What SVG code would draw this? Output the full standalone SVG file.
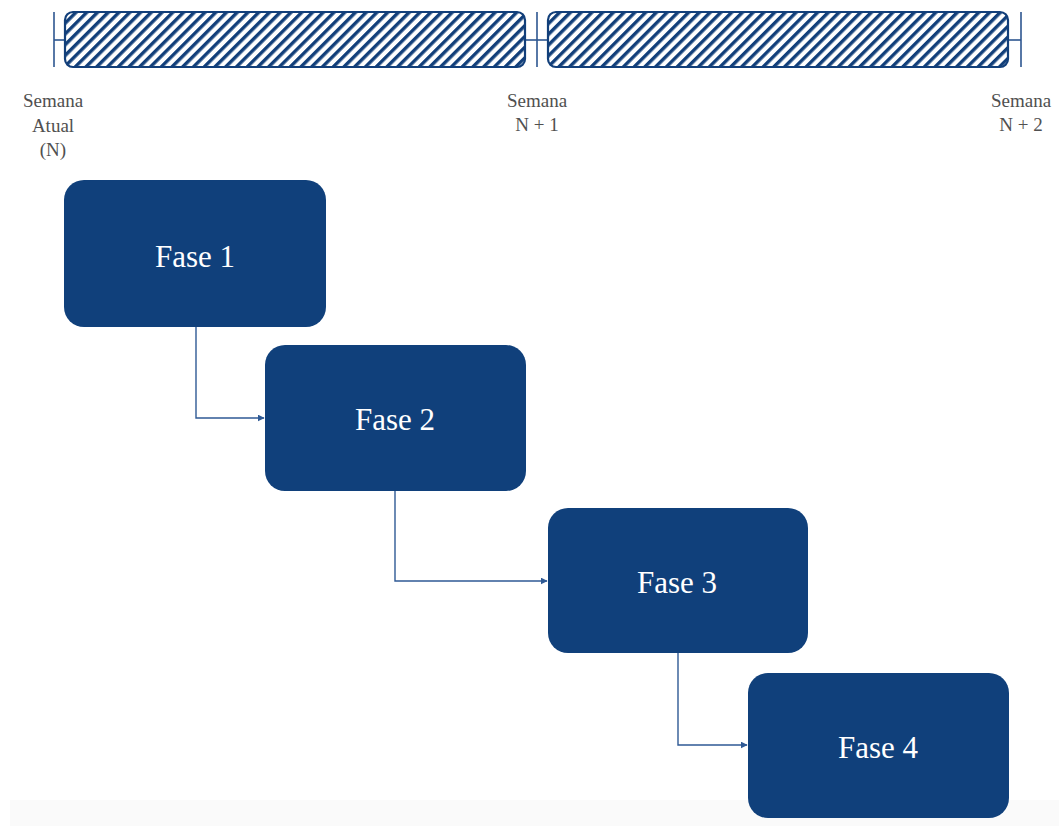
<svg xmlns="http://www.w3.org/2000/svg" width="1059" height="826" viewBox="0 0 1059 826">
<defs>
<style>
.bar{fill:url(#hatch);stroke:#123f7a;stroke-width:2.2}
.tick{stroke:#2d5690;stroke-width:1.6;fill:none}
.lbl{font-family:"Liberation Serif","Times New Roman",serif;font-size:19px;fill:#505050;text-anchor:middle}
.box{fill:#10407b}
.bt{font-family:"Liberation Serif","Times New Roman",serif;font-size:31px;fill:#ffffff;text-anchor:middle}
.conn{stroke:#2f5a95;stroke-width:1.4;fill:none;marker-end:url(#arr)}
</style>
<pattern id="hatch" patternUnits="userSpaceOnUse" width="7.6" height="7.6" patternTransform="rotate(45)">
<rect width="7.6" height="7.6" fill="#ffffff"/>
<rect x="0" y="0" width="3.4" height="7.6" fill="#123f7a"/>
</pattern>
<marker id="arr" viewBox="0 0 10 10" refX="9" refY="5" markerWidth="7" markerHeight="7" markerUnits="userSpaceOnUse" orient="auto">
<path d="M0,0 L10,5 L0,10 z" fill="#2f5a95"/>
</marker>
</defs>
<rect x="10" y="800" width="1049" height="26" fill="#fafafa"/>
<g id="timeline">
<line class="tick" x1="54" y1="12" x2="54" y2="67"/>
<line class="tick" x1="54" y1="40" x2="65" y2="40"/>
<line class="tick" x1="537" y1="12" x2="537" y2="67"/>
<line class="tick" x1="525" y1="40" x2="548" y2="40"/>
<line class="tick" x1="1021" y1="12" x2="1021" y2="67"/>
<line class="tick" x1="1008" y1="40" x2="1021" y2="40"/>
<rect class="bar" x="65" y="12" width="460" height="55" rx="8"/>
<rect class="bar" x="548" y="12" width="460" height="55" rx="8"/>
</g>
<g id="labels">
<text class="lbl" x="53" y="107">Semana</text>
<text class="lbl" x="53" y="132">Atual</text>
<text class="lbl" x="53" y="156">(N)</text>
<text class="lbl" x="537" y="107">Semana</text>
<text class="lbl" x="537" y="131">N + 1</text>
<text class="lbl" x="1021" y="107">Semana</text>
<text class="lbl" x="1021" y="131">N + 2</text>
</g>
<g id="connectors">
<path class="conn" d="M196,327 V418 H264"/>
<path class="conn" d="M395,491 V581 H547"/>
<path class="conn" d="M678,653 V745 H747"/>
</g>
<g id="fase1">
<rect class="box" x="64" y="180" width="262" height="147" rx="20"/>
<text class="bt" x="195" y="267">Fase 1</text>
</g>
<g id="fase2">
<rect class="box" x="265" y="345" width="261" height="146" rx="20"/>
<text class="bt" x="395" y="430">Fase 2</text>
</g>
<g id="fase3">
<rect class="box" x="548" y="508" width="260" height="145" rx="20"/>
<text class="bt" x="677" y="593">Fase 3</text>
</g>
<g id="fase4">
<rect class="box" x="748" y="673" width="261" height="145" rx="20"/>
<text class="bt" x="878" y="758">Fase 4</text>
</g>
</svg>
